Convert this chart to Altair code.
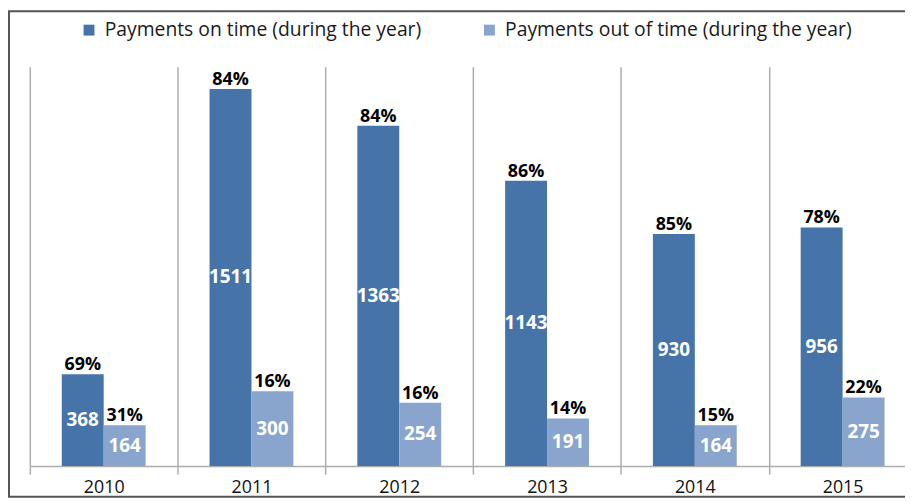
import altair as alt
import pandas as pd

years = ["2010", "2011", "2012", "2013", "2014", "2015"]
series = ["Payments on time (during the year)", "Payments out of time (during the year)"]
on_time = [368, 1511, 1363, 1143, 930, 956]
out_time = [164, 300, 254, 191, 164, 275]
on_pct = [69, 84, 84, 86, 85, 78]
out_pct = [31, 16, 16, 14, 15, 22]
colors = ["#4674A9", "#89A5CD"]

rows = []
for i, y in enumerate(years):
    rows.append({"year": y, "series": series[0], "value": on_time[i], "pct": on_pct[i]})
    rows.append({"year": y, "series": series[1], "value": out_time[i], "pct": out_pct[i]})
df = pd.DataFrame(rows)

FONT = "Open Sans"

x_enc = alt.X(
    "year:N",
    sort=years,
    title=None,
    scale=alt.Scale(range=[0, 894.6], paddingInner=0, paddingOuter=0),
    axis=alt.Axis(
        tickBand="extent",
        grid=True,
        gridColor="#ADADAD",
        gridWidth=1.5,
        domainColor="#ADADAD",
        domainWidth=1.5,
        tickColor="#ADADAD",
        tickWidth=1.5,
        tickSize=8,
        labelPadding=5,
        labelFont=FONT,
        labelFontSize=18,
        labelColor="#111111",
        labelAngle=0,
    ),
)
xo_enc = alt.XOffset(
    "series:N",
    sort=series,
    scale=alt.Scale(paddingInner=0, paddingOuter=0.7625),
)
y_scale = alt.Scale(domain=[0, 1600], nice=False)

base = alt.Chart(df).encode(x=x_enc, xOffset=xo_enc)

bars = base.mark_bar(size=42.3).encode(
    y=alt.Y("value:Q", scale=y_scale, axis=None),
    color=alt.Color(
        "series:N",
        sort=series,
        scale=alt.Scale(domain=series, range=colors),
        legend=alt.Legend(
            title=None,
            orient="none",
            legendX=50,
            legendY=-47,
            direction="horizontal",
            symbolType="square",
            symbolSize=121,
            symbolStrokeWidth=0,
            labelFont=FONT,
            labelFontSize=19.5,
            labelColor="#1a1a1a",
            labelOffset=6,
            labelLimit=0,
            columnPadding=58,
            padding=0,
        ),
    ),
)

inner = base.mark_text(font=FONT, fontSize=19, fontWeight="bold", color="white").transform_calculate(
    mid="datum.value / 2", vlabel="format(datum.value, 'd')"
).encode(
    y=alt.Y("mid:Q", scale=y_scale, axis=None),
    text="vlabel:N",
)

top = base.mark_text(font=FONT, fontSize=18, fontWeight="bold", color="black", baseline="bottom", dy=0).transform_calculate(
    plabel="datum.pct + '%'"
).encode(
    y=alt.Y("value:Q", scale=y_scale, axis=None),
    text="plabel:N",
)

border = alt.Chart(alt.Data(values=[{}])).mark_rect(
    fillOpacity=0, stroke="#555555", strokeWidth=2
).encode(
    x=alt.value(-21), x2=alt.value(900), y=alt.value(-56), y2=alt.value(434)
)

chart = alt.layer(bars, inner, top, border).properties(
    width=883,
    height=403,
    padding={"left": 22, "top": 57, "right": 0, "bottom": 34},
    autosize=alt.AutoSizeParams(type="none"),
    background="white",
).configure_view(stroke=None)

chart.save("out.html", embed_options={"renderer": "svg", "actions": False})
